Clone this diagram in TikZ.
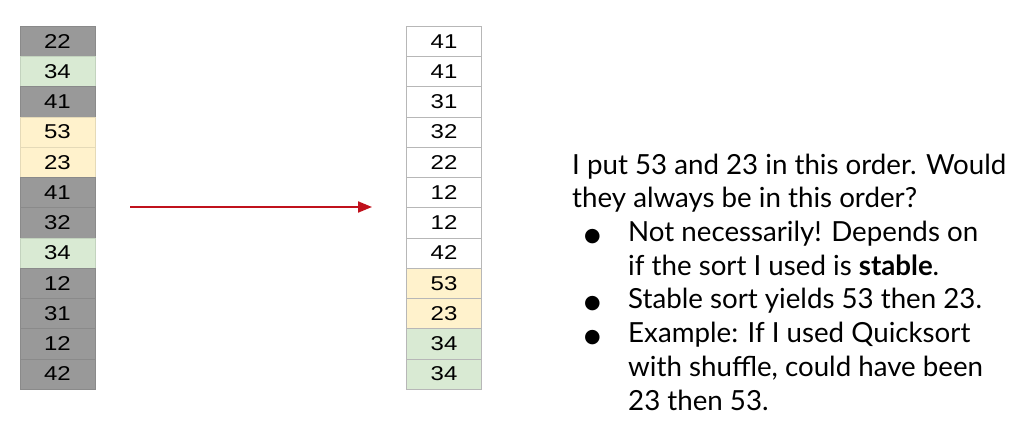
\documentclass[tikz,border=0pt]{standalone}
\usepackage{fontspec}
\usepackage{graphicx}
\setmainfont{Lato}
\newfontfamily\cellfont{Liberation Sans}
\newfontfamily\symfont{DejaVu Sans}
\usepackage{tikz}
\usetikzlibrary{arrows.meta}
\definecolor{cellgray}{HTML}{999999}
\definecolor{cellgreen}{HTML}{D9EAD3}
\definecolor{cellyellow}{HTML}{FFF2CC}
\definecolor{cellwhite}{HTML}{FFFFFF}
\definecolor{cellline}{HTML}{B7B7B7}
\definecolor{arrowred}{HTML}{C0111C}
\tikzstyle{cell}=[minimum width=75pt, minimum height=30.25pt, inner sep=0pt, font=\cellfont\fontsize{20}{22}\selectfont]
\tikzstyle{sortarrow}=[draw=arrowred, line width=2pt, -{Triangle[length=14pt,width=11pt]}]
\newcommand{\bul}{\makebox[56pt][l]{\hspace{12pt}{\symfont\fontsize{19}{20}\selectfont ●}}}
\newcommand{\wide}[1]{\scalebox{1.2}[1]{#1}}

\begin{document}
\begin{tikzpicture}[x=1pt,y=-1pt]
\useasboundingbox (0,0) rectangle (1019,427);
% unsorted column
\foreach \v/\c [count=\i] in {22/gray,34/green,41/gray,53/yellow,23/yellow,41/gray,32/gray,34/green,12/gray,31/gray,12/gray,42/gray}
  \node[cell, fill=cell\c, draw=cell\c!90!black] (l\i) at (57.5,{26+30.25*(\i-0.5)}) {\wide{\v}};
% sorted column
\foreach \v/\c [count=\i] in {41/white,41/white,31/white,32/white,22/white,12/white,12/white,42/white,53/yellow,23/yellow,34/green,34/green}
  \node[cell, fill=cell\c, draw=cellline] (r\i) at (444,{26+30.25*(\i-0.5)}) {\wide{\v}};
\coordinate (a0) at (130,207);
\coordinate (a1) at (372,207);
\draw[sortarrow] (a0) -- (a1);
\node[anchor=base west, align=left, inner sep=0pt, font=\fontsize{27.7}{33.7}\selectfont] (note) at (572,410)
  {I put 53 and 23 in this order. Would\\
   they always be in this order?\\
   \bul Not necessarily! Depends on\\
   \hspace{56pt}if the sort I used is \textbf{stable}.\\
   \bul Stable sort yields 53 then 23.\\
   \bul Example: If I used Quicksort\\
   \hspace{56pt}with shuffle, could have been\\
   \hspace{56pt}23 then 53.};
\end{tikzpicture}
\end{document}
